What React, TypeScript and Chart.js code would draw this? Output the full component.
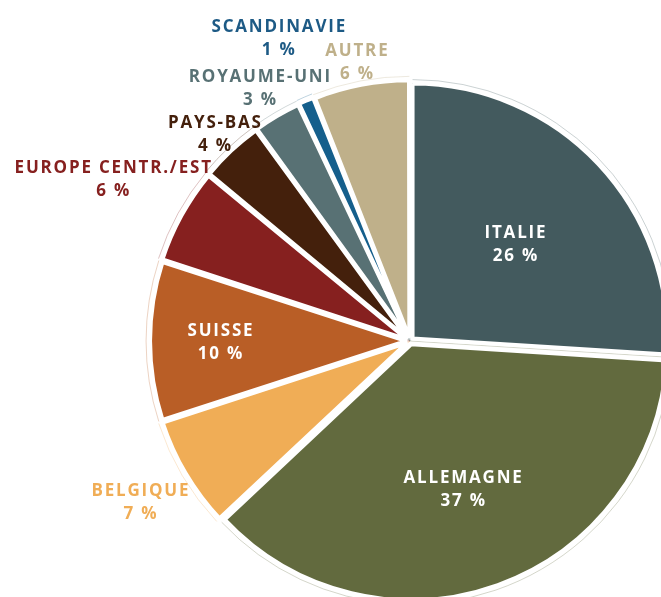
import React, { useEffect, useRef } from "react";
import { Chart, ArcElement, PieController } from "chart.js";

Chart.register(ArcElement, PieController);

// ---- data ----
const categories = [
  "ITALIE",
  "ALLEMAGNE",
  "BELGIQUE",
  "SUISSE",
  "EUROPE CENTR./EST",
  "PAYS-BAS",
  "ROYAUME-UNI",
  "SCANDINAVIE",
  "AUTRE",
];
const shares = [26, 37, 7, 10, 6, 4, 3, 1, 6];
const valueLabels = ["26 %", "37 %", "7 %", "10 %", "6 %", "4 %", "3 %", "1 %", "6 %"];

// ---- styling ----
const sliceColors = [
  "#435a5e",
  "#626a3e",
  "#f0ad56",
  "#b95e26",
  "#86201f",
  "#44200c",
  "#587174",
  "#155f8c",
  "#bfb08a",
];
const labelColors = [
  "#ffffff",
  "#ffffff",
  "#f0ad56",
  "#ffffff",
  "#86201f",
  "#44200c",
  "#587174",
  "#1d5a85",
  "#bfb08a",
];
// radial distance of each label, as a fraction of the pie radius
const labelDistance = [0.565, 0.61, 1.23, 0.745, 1.33, 1.12, 1.16, 1.3, 1.12];

function hexAlpha(hex: string, a: number) {
  const n = parseInt(hex.slice(1), 16);
  return `rgba(${(n >> 16) & 255},${(n >> 8) & 255},${n & 255},${a})`;
}

const outlinePlugin = {
  id: "ghostOutline",
  beforeDatasetsDraw(chart: any) {
    const ctx = chart.ctx as CanvasRenderingContext2D;
    const meta = chart.getDatasetMeta(0);
    ctx.save();
    ctx.lineWidth = 0.8;
    meta.data.forEach((arc: any, i: number) => {
      const { x, y, startAngle, endAngle, outerRadius, circumference } = arc.getProps(
        ["x", "y", "startAngle", "endAngle", "outerRadius", "circumference"],
        true
      );
      const off = (arc.options.offset || 0) / 4;
      const mid = (startAngle + endAngle) / 2;
      const fix = 1 - Math.sin(Math.min(Math.PI, circumference || 0));
      const cx = x + Math.cos(mid) * off;
      const cy = y + Math.sin(mid) * off;
      ctx.strokeStyle = hexAlpha(sliceColors[i], 0.35);
      ctx.beginPath();
      ctx.arc(cx, cy, outerRadius + off * fix + 4, startAngle, endAngle);
      ctx.stroke();
      ctx.beginPath();
      ctx.moveTo(x, y);
      ctx.lineTo(x + Math.cos(startAngle) * (outerRadius + 5), y + Math.sin(startAngle) * (outerRadius + 5));
      ctx.stroke();
    });
    ctx.restore();
  },
};

const labelPlugin = {
  id: "sliceLabels",
  afterDatasetsDraw(chart: any) {
    const ctx = chart.ctx as CanvasRenderingContext2D;
    const meta = chart.getDatasetMeta(0);
    const spacing = 1.8;
    ctx.save();
    ctx.font = "700 17px 'Open Sans'";
    (ctx as any).letterSpacing = spacing + "px";
    ctx.textAlign = "center";
    ctx.textBaseline = "middle";
    meta.data.forEach((arc: any, i: number) => {
      const { x, y, startAngle, endAngle, outerRadius } = arc.getProps(
        ["x", "y", "startAngle", "endAngle", "outerRadius"],
        true
      );
      const mid = (startAngle + endAngle) / 2;
      const r = outerRadius * labelDistance[i];
      const lx = x + Math.cos(mid) * r + spacing / 2;
      const ly = y + Math.sin(mid) * r + 2;
      ctx.fillStyle = labelColors[i];
      ctx.fillText(categories[i], lx, ly - 11.5);
      ctx.fillText(valueLabels[i], lx, ly + 11.5);
    });
    ctx.restore();
  },
};

export default function App() {
  const ref = useRef<HTMLCanvasElement | null>(null);
  useEffect(() => {
    if (!ref.current) return;
    const chart = new Chart(ref.current, {
      type: "pie",
      data: {
        labels: categories,
        datasets: [
          {
            data: shares,
            backgroundColor: sliceColors,
            borderColor: "#ffffff",
            borderWidth: 4,
            offset: 14,
          },
        ],
      },
      options: {
        responsive: false,
        animation: false,
        radius: 255,
        events: [],
        layout: { padding: { left: 155, right: 35, top: 86, bottom: 44 } },
        plugins: { legend: { display: false }, tooltip: { enabled: false } },
      } as any,
      plugins: [outlinePlugin, labelPlugin],
    });
    return () => chart.destroy();
  }, []);
  return (
    <div
      style={{
        position: "fixed",
        left: 0,
        top: 0,
        width: 661,
        height: 597,
        overflow: "hidden",
        background: "#ffffff",
      }}
    >
      <canvas ref={ref} width={700} height={640} style={{ display: "block" }} />
    </div>
  );
}
